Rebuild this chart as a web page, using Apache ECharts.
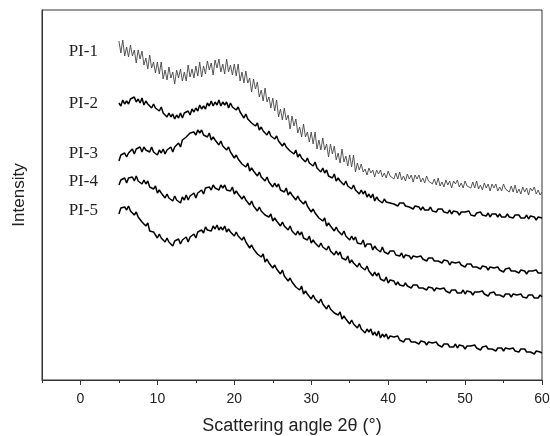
<!DOCTYPE html>
<html>
<head>
<meta charset="utf-8">
<script src="https://cdn.jsdelivr.net/npm/echarts@6/dist/echarts.min.js"></script>
<style>
  html, body { margin: 0; padding: 0; background: #fff; }
  #xrdChart { width: 550px; height: 436px; }
</style>
</head>
<body>
<div id="xrdChart"></div>
<script>
// sampling grid of the scans (degrees 2θ): 5 .. 60 every 0.25
const angleStart = 5;
const angleStep = 0.25;

const sampleNames = ['PI-1', 'PI-2', 'PI-3', 'PI-4', 'PI-5'];

// stacked intensities (arbitrary units, curves offset per sample)
const pi1 = [
    339, 327, 340, 324, 333, 323, 335, 324, 330, 317, 330, 321, 329, 315, 322, 311, 325, 312, 318, 307,
    318, 306, 318, 301, 310, 300, 313, 302, 308, 296, 310, 302, 311, 299, 308, 299, 315, 303, 311, 302,
    314, 304, 318, 303, 314, 306, 319, 310, 317, 305, 320, 312, 321, 308, 316, 306, 321, 308, 315, 305,
    316, 304, 316, 299, 308, 297, 309, 297, 302, 288, 301, 291, 298, 283, 290, 279, 292, 278, 283, 272,
    282, 269, 280, 263, 271, 260, 272, 260, 265, 251, 264, 254, 261, 247, 253, 243, 256, 243, 248, 238,
    248, 236, 248, 231, 240, 230, 242, 230, 236, 223, 236, 226, 234, 220, 227, 217, 231, 218, 224, 214,
    225, 213, 225, 208, 217, 210, 216, 208, 211, 205, 212, 207, 210, 203, 210, 206, 210, 203, 207, 202,
    209, 204, 206, 201, 207, 201, 208, 200, 204, 199, 206, 201, 205, 198, 205, 201, 205, 198, 202, 197,
    204, 199, 200, 196, 201, 195, 202, 194, 198, 193, 200, 195, 199, 192, 199, 196, 200, 193, 197, 192,
    199, 194, 196, 192, 198, 192, 199, 191, 195, 190, 197, 192, 196, 189, 196, 192, 196, 189, 193, 189,
    196, 191, 193, 188, 194, 188, 195, 187, 191, 186, 193, 188, 192, 185, 192, 189, 193, 186, 190, 185,
    188];
const pi2 = [
    277, 274, 280, 276, 279, 276, 281, 279, 283, 278, 281, 277, 282, 275, 279, 276, 278, 272, 276, 272,
    274, 269, 273, 267, 268, 263, 267, 263, 266, 261, 265, 262, 267, 262, 267, 265, 269, 265, 271, 268,
    272, 269, 275, 271, 274, 271, 277, 274, 279, 274, 278, 275, 280, 274, 278, 275, 278, 272, 277, 273,
    275, 270, 273, 268, 268, 262, 266, 261, 263, 257, 258, 254, 257, 250, 253, 249, 251, 245, 249, 244,
    246, 241, 244, 239, 239, 234, 237, 233, 235, 229, 231, 226, 230, 223, 226, 222, 224, 218, 222, 217,
    219, 214, 218, 212, 213, 208, 212, 207, 210, 204, 206, 202, 206, 199, 202, 199, 201, 195, 199, 194,
    196, 191, 195, 190, 191, 186, 190, 186, 189, 183, 186, 182, 186, 179, 183, 180, 182, 177, 181, 178,
    179, 177, 179, 176, 177, 174, 177, 175, 177, 174, 175, 173, 175, 171, 174, 172, 173, 170, 173, 170,
    172, 170, 173, 169, 171, 168, 171, 169, 171, 168, 170, 167, 170, 166, 169, 167, 168, 165, 168, 166,
    168, 166, 169, 165, 167, 164, 167, 166, 168, 165, 167, 164, 167, 163, 166, 165, 166, 163, 166, 163,
    165, 163, 166, 163, 165, 162, 165, 163, 165, 162, 164, 162, 165, 161, 164, 162, 163, 160, 163, 161,
    162];
const pi3 = [
    219, 225, 223, 227, 223, 227, 225, 231, 226, 231, 229, 233, 228, 233, 230, 232, 228, 233, 228, 230,
    225, 230, 227, 231, 226, 230, 228, 233, 228, 233, 233, 237, 233, 240, 239, 243, 241, 247, 245, 248,
    245, 250, 247, 250, 245, 247, 243, 247, 240, 243, 240, 241, 235, 239, 234, 236, 230, 233, 228, 228,
    222, 225, 221, 223, 216, 218, 213, 217, 209, 212, 209, 210, 204, 208, 203, 205, 199, 203, 198, 198,
    193, 197, 193, 196, 190, 192, 188, 192, 185, 188, 185, 186, 180, 184, 180, 181, 176, 179, 174, 174,
    168, 171, 167, 169, 162, 163, 159, 162, 154, 157, 154, 155, 149, 153, 149, 150, 145, 149, 144, 145,
    140, 144, 140, 143, 137, 139, 136, 140, 133, 136, 134, 136, 130, 134, 131, 133, 128, 133, 128, 130,
    126, 129, 127, 129, 125, 127, 124, 127, 122, 125, 124, 124, 121, 124, 122, 123, 121, 124, 121, 122,
    119, 122, 121, 122, 119, 121, 119, 121, 117, 120, 118, 119, 115, 118, 116, 117, 115, 118, 115, 116,
    113, 116, 115, 116, 113, 115, 113, 115, 111, 114, 113, 113, 110, 113, 111, 112, 110, 113, 110, 111,
    108, 111, 110, 112, 109, 111, 109, 111, 107, 110, 109, 109, 106, 109, 107, 109, 107, 110, 107, 108,
    107];
const pi4 = [
    195, 200, 198, 202, 197, 202, 200, 203, 199, 204, 199, 201, 196, 200, 196, 199, 193, 195, 191, 194,
    187, 190, 187, 188, 182, 186, 182, 184, 179, 184, 180, 181, 177, 183, 180, 185, 180, 184, 182, 187,
    182, 187, 186, 190, 186, 192, 190, 193, 190, 195, 192, 194, 190, 195, 192, 195, 190, 192, 189, 193,
    186, 189, 186, 187, 181, 184, 180, 181, 175, 179, 174, 174, 169, 173, 169, 171, 165, 167, 163, 166,
    159, 162, 159, 160, 154, 158, 154, 155, 150, 154, 149, 150, 145, 149, 145, 148, 142, 144, 140, 144,
    137, 140, 137, 139, 133, 137, 133, 135, 130, 134, 129, 130, 125, 129, 125, 128, 122, 124, 120, 124,
    117, 120, 117, 119, 113, 117, 113, 115, 110, 114, 109, 109, 104, 108, 104, 107, 101, 103, 99, 103,
    97, 100, 98, 99, 95, 98, 95, 97, 94, 97, 94, 95, 92, 95, 94, 95, 92, 94, 92, 94,
    90, 93, 92, 92, 89, 92, 90, 91, 89, 92, 89, 90, 87, 90, 89, 90, 87, 89, 87, 90,
    86, 89, 88, 88, 85, 88, 86, 88, 86, 89, 86, 87, 84, 87, 86, 88, 85, 87, 85, 87,
    83, 86, 85, 86, 83, 86, 84, 85, 83, 86, 83, 85, 82, 85, 84, 85, 82, 84, 82, 85,
    83];
const pi5 = [
    166, 172, 170, 173, 170, 174, 169, 170, 165, 168, 163, 165, 158, 159, 154, 157, 149, 151, 148, 149,
    142, 146, 142, 143, 138, 142, 138, 139, 134, 139, 137, 141, 136, 140, 138, 143, 138, 143, 142, 146,
    142, 148, 146, 150, 147, 153, 150, 152, 149, 154, 151, 155, 150, 153, 150, 154, 148, 151, 148, 150,
    144, 148, 144, 145, 140, 143, 138, 138, 132, 135, 131, 133, 126, 127, 123, 126, 118, 121, 117, 119,
    112, 115, 111, 112, 106, 110, 104, 105, 99, 102, 98, 100, 93, 95, 90, 94, 86, 89, 86, 87,
    81, 85, 81, 82, 77, 81, 76, 76, 71, 75, 71, 73, 67, 69, 65, 68, 61, 64, 61, 62,
    56, 60, 56, 57, 52, 56, 51, 52, 47, 51, 48, 51, 45, 48, 44, 49, 42, 46, 43, 46,
    41, 44, 42, 43, 41, 44, 40, 42, 38, 41, 40, 41, 38, 40, 38, 40, 36, 39, 38, 38,
    35, 38, 36, 37, 35, 38, 35, 36, 33, 36, 35, 36, 33, 35, 33, 36, 32, 35, 34, 34,
    31, 34, 32, 34, 32, 35, 32, 33, 30, 33, 32, 34, 31, 33, 31, 33, 29, 32, 31, 32,
    29, 32, 30, 31, 29, 32, 29, 31, 28, 31, 30, 31, 28, 30, 28, 30, 26, 29, 28, 28,
    27];

const majorTicks = [0, 10, 20, 30, 40, 50, 60];
const minorTicks = [-5, 5, 15, 25, 35, 45, 55];

const sampleValues = [pi1, pi2, pi3, pi4, pi5];
const lineColors = ['#444', '#000', '#000', '#000', '#000'];
const lineWidths = [0.9, 1.5, 1.5, 1.5, 1.5];
// vertical nudge (px) of each sample label from its scan's first point
const labelDy = [11, 1, -7, -3, -3];

let chart = echarts.init(document.getElementById('xrdChart'));

function toPairs(values) {
    return values.map(function (v, i) {
        return [angleStart + i * angleStep, v];
    });
}

let option = {
    animation: false,
    backgroundColor: '#fff',
    grid: {
        left: 42, right: 8, top: 10, bottom: 56,
        outerBoundsMode: 'none',
        containLabel: false,
        show: true, borderColor: '#333', borderWidth: 1
    },
    xAxis: [{
        type: 'value',
        min: -5, max: 60,
        name: 'Scattering angle 2\u03b8 (\u00b0)',
        nameLocation: 'middle',
        nameGap: 37,
        nameTextStyle: { fontFamily: 'Liberation Sans', fontSize: 18, color: '#222' },
        axisLine: { show: true, onZero: false, lineStyle: { color: '#333', width: 1 } },
        axisTick: { show: true, length: 5, customValues: majorTicks, lineStyle: { color: '#333' } },
        axisLabel: { customValues: majorTicks, margin: 12, fontFamily: 'Liberation Sans', fontSize: 14, color: '#222' },
        splitLine: { show: false }
    }, {
        type: 'value',
        min: -5, max: 60,
        position: 'bottom',
        axisLine: { show: false, onZero: false },
        axisTick: { show: true, length: 3, customValues: minorTicks, lineStyle: { color: '#333' } },
        axisLabel: { show: false },
        splitLine: { show: false }
    }],
    yAxis: {
        type: 'value',
        min: 0, max: 370,
        name: 'Intensity',
        nameLocation: 'middle',
        nameGap: 14,
        nameTextStyle: { fontFamily: 'Liberation Sans', fontSize: 17, color: '#222' },
        axisLine: { show: true, onZero: false, lineStyle: { color: '#333', width: 1 } },
        axisTick: { show: false },
        axisLabel: { show: false },
        splitLine: { show: false }
    },
    series: sampleNames.map(function (name, k) {
        return {
            name: name,
            type: 'line',
            xAxisIndex: 0,
            showSymbol: false,
            silent: true,
            lineStyle: { color: lineColors[k], width: lineWidths[k] },
            data: toPairs(sampleValues[k])
        };
    })
};

chart.setOption(option);

// sample labels placed left of each scan's first point
let labels = sampleNames.map(function (name, k) {
    let p = chart.convertToPixel({ gridIndex: 0 }, [angleStart, sampleValues[k][0]]);
    return {
        type: 'text',
        x: p[0] - 21,
        y: p[1] + labelDy[k],
        style: {
            text: name,
            fontFamily: 'Liberation Serif',
            fontSize: 17,
            fill: '#222',
            align: 'right',
            verticalAlign: 'middle'
        }
    };
});
chart.setOption({ graphic: labels });
</script>
</body>
</html>
